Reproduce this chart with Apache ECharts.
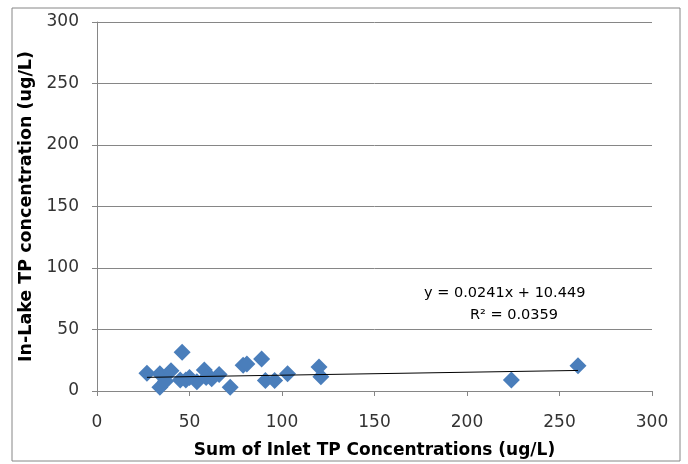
<!DOCTYPE html>
<html>
<head>
<meta charset="utf-8">
<script src="https://cdn.jsdelivr.net/npm/echarts@6/dist/echarts.min.js"></script>
<style>
  html, body { margin: 0; padding: 0; background: #fff; }
  #cht { width: 688px; height: 464px; }
</style>
</head>
<body>
<div id="cht"></div>
<script>
// inlet TP sum (x) vs in-lake TP (y), ug/L
var inletTP = [27, 34, 34, 40, 46, 45, 48, 54, 58, 59, 66, 72, 79, 81, 89, 91, 96, 103, 120, 121, 224, 260, 37, 62, 50];
var lakeTP  = [14.5, 14, 3, 16.5, 31.5, 9, 9, 7.5, 17, 11, 13.5, 3, 21, 22, 26, 8.5, 8.5, 14, 19.5, 11.5, 9, 20.5, 8, 10, 11];
var slope = 0.0241, intercept = 10.449;
var xTicks = [0, 50, 100, 150, 200, 250, 300];
var yTicks = [0, 50, 100, 150, 200, 250, 300];

var pts = inletTP.map(function (x, i) { return [x, lakeTP[i]]; });
var xMin = Math.min.apply(null, inletTP), xMax = Math.max.apply(null, inletTP);
var trend = [[xMin, slope * xMin + intercept], [xMax, slope * xMax + intercept]];

var font = '"DejaVu Sans", sans-serif';
var config = {
    animation: false,
    grid: { left: 97, right: 36, top: 22, bottom: 70 },
    xAxis: {
        type: 'value', min: xTicks[0], max: xTicks[xTicks.length - 1], interval: 50,
        name: 'Sum of Inlet TP Concentrations (ug/L)', nameLocation: 'middle', nameGap: 51,
        nameTextStyle: { fontFamily: font, fontSize: 17, fontWeight: 'bold', color: '#000' },
        axisLine: { lineStyle: { color: '#868686' } },
        axisTick: { show: true, length: 5, lineStyle: { color: '#868686' } },
        axisLabel: { fontFamily: font, fontSize: 17, color: '#333', margin: 23 },
        splitLine: { show: false }
    },
    yAxis: {
        type: 'value', min: yTicks[0], max: yTicks[yTicks.length - 1], interval: 50,
        name: 'In-Lake TP concentration (ug/L)', nameLocation: 'middle', nameGap: 56,
        nameTextStyle: { fontFamily: font, fontSize: 17.5, fontWeight: 'bold', color: '#000' },
        axisLine: { show: true, lineStyle: { color: '#868686' } },
        axisTick: { show: true, length: 5, lineStyle: { color: '#868686' } },
        axisLabel: { fontFamily: font, fontSize: 17, color: '#333', margin: 18 },
        splitLine: { lineStyle: { color: '#868686' } }
    },
    graphic: [
        { type: 'rect', shape: { x: 12, y: 8, width: 668, height: 453 },
          style: { fill: 'none', stroke: '#868686', lineWidth: 1 }, silent: true },
        { type: 'text', left: 424, top: 286,
          style: { text: 'y = 0.0241x + 10.449', font: '14.5px ' + font, fill: '#000' } },
        { type: 'text', left: 470, top: 308,
          style: { text: 'R² = 0.0359', font: '14.5px ' + font, fill: '#000' } }
    ],
    series: [
        {
            type: 'scatter', data: pts, symbol: 'diamond', symbolSize: 17,
            itemStyle: { color: '#4a7ebb', opacity: 1 }
        },
        {
            type: 'line', data: trend, symbol: 'none', z: 5,
            lineStyle: { color: '#000', width: 1 }
        }
    ]
};

window.onload = function () {
    var myChart = echarts.init(document.getElementById('cht'));
    myChart.setOption(config);
};
</script>
</body>
</html>
